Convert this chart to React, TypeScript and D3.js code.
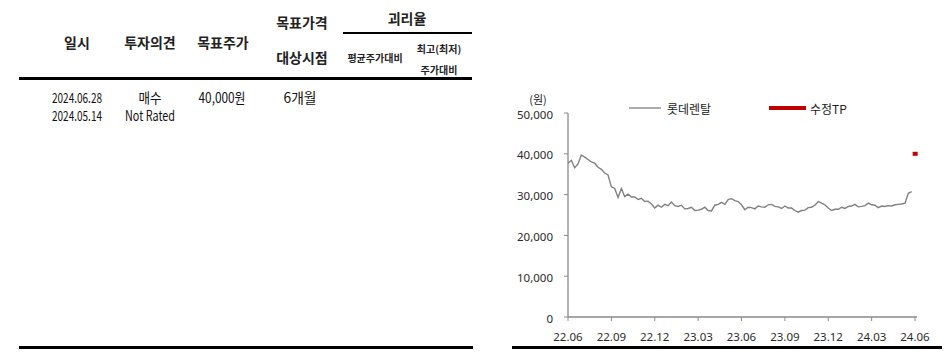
import React from "react";
import * as d3 from "d3";

const tickLabels = ["22.06", "22.09", "22.12", "23.03", "23.06", "23.09", "23.12", "24.03", "24.06"];
const yTicks = [0, 10000, 20000, 30000, 40000, 50000];
const priceWeekly = [
  37700, 38400, 36600, 37500, 39700, 39200, 38600, 38000, 37700, 36700,
  36200, 35300, 34800, 31900, 31500, 29300, 31500, 29500, 30100, 29400,
  29400, 28800, 29100, 28300, 28400, 27700, 26700, 27400, 26900, 27600,
  27300, 28200, 27300, 27100, 27400, 26500, 26600, 26900, 26100, 26200,
  26400, 26900, 26100, 26000, 27400, 27600, 28100, 27600, 28800, 29000,
  28500, 28300, 27500, 26300, 26900, 26800, 26500, 27200, 27000, 26900,
  27500, 27600, 27100, 27000, 26600, 27200, 26700, 26700, 26100, 25700,
  26100, 26200, 26800, 26900, 27400, 28300, 27900, 27500, 26700, 26100,
  26400, 26400, 26900, 26600, 27100, 27200, 27600, 27000, 27100, 27300,
  27900, 27500, 27400, 26800, 27200, 27100, 27300, 27200, 27500, 27600,
  27700, 27900, 30300, 30700,
];
const tpWeeks = [103.3, 104.8];
const tpValues = [40000, 40000];

const headerCols = [
  { label: "일시", x: 77 },
  { label: "투자의견", x: 150 },
  { label: "목표주가", x: 223 },
];
const row1 = ["2024.06.28", "매수", "40,000원", "6개월"];
const row2 = ["2024.05.14", "Not Rated"];
const rowX = [77, 150, 222, 300];
const row1W = [50, 23, 47, 33];
const row2W = [50, 50];

export default function App() {
  const x = d3.scaleLinear().domain([0, 104]).range([568, 915]);
  const y = d3.scaleLinear().domain([0, 50000]).range([317, 113]);
  const line = d3
    .line<number>()
    .x((_, i) => x(i))
    .y((d) => y(d));
  const tpLine = d3
    .line<number>()
    .x((_, i) => x(tpWeeks[i]))
    .y((d) => y(d));
  const axisColor = "#8a8a8a";
  const textColor = "#222";
  const cjk = "'Noto Sans CJK KR', 'Noto Sans', sans-serif";
  const tickFont = "'Noto Sans', 'Noto Sans CJK KR', sans-serif";

  return (
    <svg
      width={946}
      height={356}
      style={{ position: "absolute", left: 0, top: 0, background: "#fff" }}
    >
      {/* table header */}
      <g fontFamily={cjk} fontWeight="bold" fill={textColor} textAnchor="middle">
        {headerCols.map((c) => (
          <text key={c.label} x={c.x} y={42} fontSize={14} dominantBaseline="central">
            {c.label}
          </text>
        ))}
        <text x={302} y={22} fontSize={14} dominantBaseline="central">목표가격</text>
        <text x={302} y={57} fontSize={14} dominantBaseline="central">대상시점</text>
        <text x={407} y={18} fontSize={14} dominantBaseline="central">괴리율</text>
        <text x={375} y={57} fontSize={10} dominantBaseline="central">평균주가대비</text>
        <text x={439} y={48} fontSize={10} dominantBaseline="central">최고(최저)</text>
        <text x={439} y={69} fontSize={10} dominantBaseline="central">주가대비</text>
      </g>
      <line x1={343} x2={472} y1={33} y2={33} stroke="#000" strokeWidth={1.8} />
      <line x1={19} x2={472} y1={78.5} y2={78.5} stroke="#000" strokeWidth={3} />
      <g fontFamily={cjk} fill="#111" textAnchor="middle" fontSize={14}>
        {row1.map((t, i) => (
          <text key={"r1" + i} x={rowX[i]} y={96.5} dominantBaseline="central" textLength={row1W[i]} lengthAdjust="spacingAndGlyphs">{t}</text>
        ))}
        {row2.map((t, i) => (
          <text key={"r2" + i} x={rowX[i]} y={115} dominantBaseline="central" textLength={row2W[i]} lengthAdjust="spacingAndGlyphs">{t}</text>
        ))}
      </g>
      <line x1={19} x2={473} y1={347.5} y2={347.5} stroke="#000" strokeWidth={3} />
      <line x1={512} x2={942} y1={347.5} y2={347.5} stroke="#000" strokeWidth={3} />

      {/* chart */}
      <text x={538} y={98.5} fontFamily={cjk} fontSize={11} fill={textColor} textAnchor="middle" dominantBaseline="central">(원)</text>
      <line x1={568} x2={568} y1={y(50000)} y2={y(0)} stroke={axisColor} strokeWidth={1.3} />
      <line x1={568} x2={917} y1={y(0)} y2={y(0)} stroke={axisColor} strokeWidth={1.3} />
      {yTicks.map((v) => (
        <g key={v}>
          <line x1={564} x2={568} y1={y(v)} y2={y(v)} stroke={axisColor} strokeWidth={1} />
          <text x={553} y={y(v) + 1} fontFamily={tickFont} fontSize={11.5} fill="#2a2a2a" textAnchor="end" dominantBaseline="central">
            {d3.format(",")(v)}
          </text>
        </g>
      ))}
      {tickLabels.map((t, i) => {
        const xv = x(i * 13);
        return (
          <g key={t}>
            <line x1={xv} x2={xv} y1={y(0)} y2={y(0) + 4} stroke={axisColor} strokeWidth={1} />
            <text x={xv} y={336} fontFamily={tickFont} fontSize={11.5} fill="#2a2a2a" textAnchor="middle" dominantBaseline="central">
              {t}
            </text>
          </g>
        );
      })}
      <path d={line(priceWeekly) || ""} fill="none" stroke="#808080" strokeWidth={1.4} strokeLinejoin="miter" />
      <path d={tpLine(tpValues) || ""} fill="none" stroke="#c00000" strokeWidth={4} />

      {/* legend */}
      <line x1={629} x2={661} y1={108} y2={108} stroke="#808080" strokeWidth={1.3} />
      <text x={667} y={108} fontFamily={cjk} fontSize={12} fill={textColor} dominantBaseline="central">롯데렌탈</text>
      <line x1={769} x2={806} y1={108} y2={108} stroke="#c00000" strokeWidth={4} />
      <text x={810} y={108} fontFamily={cjk} fontSize={12} fill={textColor} dominantBaseline="central">수정TP</text>
    </svg>
  );
}
